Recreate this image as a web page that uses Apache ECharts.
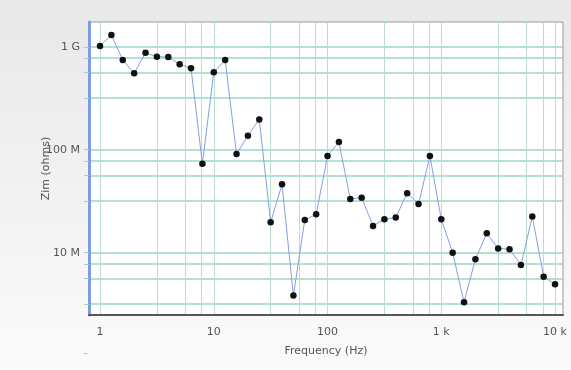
<!DOCTYPE html>
<html>
<head>
<meta charset="utf-8">
<script src="https://cdn.jsdelivr.net/npm/echarts@6/dist/echarts.min.js"></script>
<style>
  html, body { margin: 0; padding: 0; }
  #chart { width: 571px; height: 370px; }
</style>
</head>
<body>
<div id="chart"></div>
<script>
// Impedance sweep: imaginary part vs. frequency (10 points per decade)
const frequencies = [
  1, 1.259, 1.585, 1.995, 2.512, 3.162, 3.981, 5.012, 6.31, 7.943,
  10, 12.59, 15.85, 19.95, 25.12, 31.62, 39.81, 50.12, 63.1, 79.43,
  100, 125.9, 158.5, 199.5, 251.2, 316.2, 398.1, 501.2, 631, 794.3,
  1000, 1259, 1585, 1995, 2512, 3162, 3981, 5012, 6310, 7943, 10000
];
const zim = [
  1.02e9, 1.30e9, 7.43e8, 5.52e8, 8.74e8, 8.00e8, 7.95e8, 6.75e8, 6.17e8, 7.31e7,
  5.64e8, 7.43e8, 9.08e7, 1.367e8, 1.97e8, 1.97e7, 4.62e7, 3.83e6, 2.08e7, 2.36e7,
  8.69e7, 1.188e8, 3.32e7, 3.42e7, 1.82e7, 2.11e7, 2.19e7, 3.78e7, 2.97e7, 8.69e7,
  2.11e7, 1.00e7, 3.30e6, 8.63e6, 1.54e7, 1.10e7, 1.08e7, 7.60e6, 2.24e7, 5.85e6, 4.93e6
];

// Grid lines at 1, ~3.16, ~5.6 and ~7.8 within each decade
const xGridValues = [1, 3.162, 5.623, 7.8, 10, 31.62, 56.23, 78, 100, 316.2, 562.3, 780,
  1000, 3162, 5623, 7800, 10000];
const xLabelValues = [1, 10, 100, 1000, 10000];
const xLabelText = ['1', '10', '100', '1 k', '10 k'];
const yGridValues = [3.162e6, 5.623e6, 7.8e6, 1e7, 3.162e7, 5.623e7, 7.8e7, 1e8,
  3.162e8, 5.623e8, 7.8e8, 1e9];
const yLabelValues = [1e7, 1e8, 1e9];
const yLabelText = ['10 M', '100 M', '1 G'];

const font = 'DejaVu Sans';

const chart = echarts.init(document.getElementById('chart'), null, { renderer: 'canvas' });

function labelFor(values, texts) {
  return function (v) {
    for (let i = 0; i < values.length; i++) {
      if (Math.abs(Math.log10(v) - Math.log10(values[i])) < 1e-3) return texts[i];
    }
    return '';
  };
}

chart.setOption({
  animation: false,
  backgroundColor: {
    type: 'linear', x: 0, y: 0, x2: 0, y2: 1,
    colorStops: [
      { offset: 0, color: '#e8e8e8' },
      { offset: 1, color: '#fbfbfb' }
    ]
  },
  grid: {
    left: 89, right: 8, top: 22, bottom: 55,
    show: true,
    backgroundColor: '#ffffff',
    borderColor: '#9a9a9a',
    borderWidth: 1
  },
  xAxis: {
    type: 'log',
    min: 0.8,
    max: 11750,
    name: 'Frequency (Hz)',
    nameLocation: 'middle',
    nameGap: 31,
    nameMoveOverlap: false,
    nameTextStyle: { fontFamily: font, fontSize: 11, color: '#555' },
    axisLine: { show: true, onZero: false, lineStyle: { color: '#555', width: 2 } },
    axisTick: { show: false, customValues: xGridValues },
    axisLabel: {
      customValues: xLabelValues,
      formatter: labelFor(xLabelValues, xLabelText),
      margin: 12,
      fontFamily: font, fontSize: 11, color: '#555'
    },
    splitLine: { show: true, lineStyle: { color: '#bcddd4', width: 1 } }
  },
  yAxis: {
    type: 'log',
    min: 2.48e6,
    max: 1.74e9,
    name: 'Zim (ohms)',
    nameLocation: 'middle',
    nameGap: 37,
    nameRotate: 90,
    nameMoveOverlap: false,
    nameTextStyle: { fontFamily: font, fontSize: 11, color: '#555' },
    axisLine: { show: true, onZero: false, lineStyle: { color: '#7c9be2', width: 3 } },
    axisTick: {
      show: true, inside: false, length: 5, customValues: yGridValues,
      lineStyle: { color: '#a6cfc4', width: 1 }
    },
    axisLabel: {
      customValues: yLabelValues,
      formatter: labelFor(yLabelValues, yLabelText),
      margin: 9,
      fontFamily: font, fontSize: 11, color: '#555'
    },
    splitLine: { show: true, lineStyle: { color: '#9ad8c6', width: 1.5 } }
  },
  graphic: [{
    type: 'text', left: 83, top: 348,
    style: { text: '–', fill: '#b0b0b0', font: '10px DejaVu Sans' }
  }],
  series: [{
    type: 'line',
    data: frequencies.map((f, i) => [f, zim[i]]),
    symbol: 'circle',
    symbolSize: 6.5,
    itemStyle: { color: '#111' },
    lineStyle: { color: '#849fe2', width: 1 },
    z: 5
  }]
});
</script>
</body>
</html>
